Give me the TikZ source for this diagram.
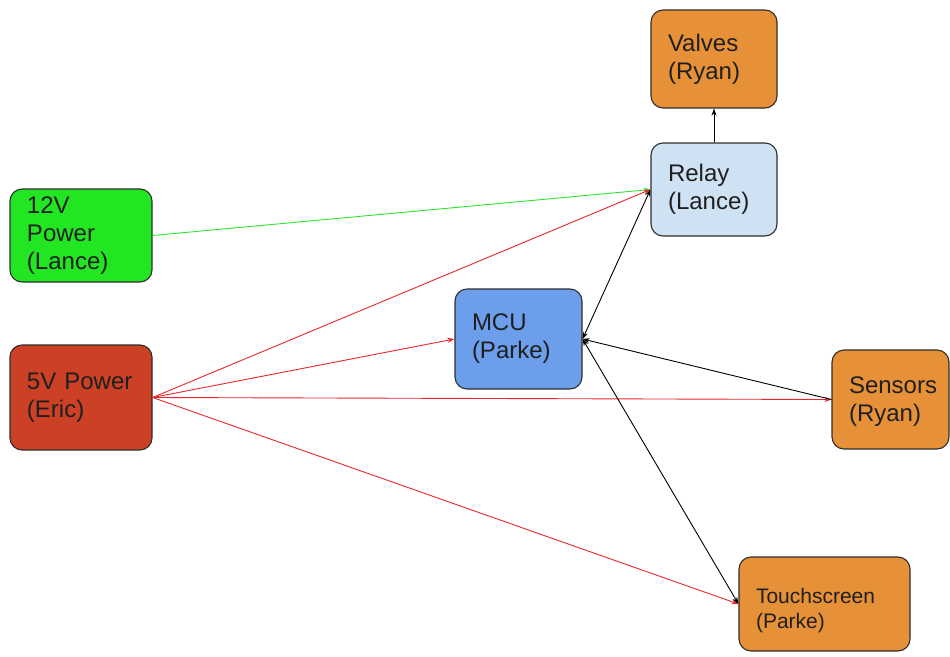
\documentclass[tikz,border=0pt]{standalone}
\usepackage{fontspec}
\setmainfont{Liberation Sans}
\usetikzlibrary{arrows.meta}
\definecolor{boxorange}{HTML}{E69138}
\definecolor{boxlightblue}{HTML}{CFE2F3}
\definecolor{boxgreen}{HTML}{22E622}
\definecolor{boxred}{HTML}{CC4125}
\definecolor{boxblue}{HTML}{6D9EEB}
\definecolor{boxedge}{HTML}{2E2E2E}
\definecolor{txt}{HTML}{1F1F1F}
\definecolor{wirered}{HTML}{E8262E}
\definecolor{wiregreen}{HTML}{2EE62E}
\begin{document}
\begin{tikzpicture}[x=1pt,y=-1pt,
  block/.style={draw=boxedge, line width=1.1pt, rounded corners=12pt,
    rectangle, inner xsep=17pt, inner ysep=0pt, align=left,
    text=txt, font=\fontsize{24}{28}\selectfont},
  wire/.style={line width=0.9pt, -{Stealth[length=7pt,width=5pt]}},
  twoway/.style={line width=0.9pt, {Stealth[length=7pt,width=5pt]}-{Stealth[length=7pt,width=5pt]}}]
\useasboundingbox (0,0) rectangle (950,656);

% component blocks
\node[block, fill=boxorange, minimum width=126pt, minimum height=98pt, text width=92pt]
  (valves) at (714,59) {Valves\\(Ryan)};
\node[block, fill=boxlightblue, minimum width=126pt, minimum height=93pt, text width=92pt]
  (relay) at (714,189.5) {Relay\\(Lance)};
\node[block, fill=boxgreen, minimum width=142pt, minimum height=93pt, text width=108pt]
  (p12) at (81,235.5) {12V\\Power\\(Lance)};
\node[block, fill=boxred, minimum width=142pt, minimum height=105pt, text width=108pt]
  (p5) at (81,397.5) {5V Power\\(Eric)};
\node[block, fill=boxblue, minimum width=127pt, minimum height=100pt, text width=93pt]
  (mcu) at (518.5,339) {MCU\\(Parke)};
\node[block, fill=boxorange, minimum width=117pt, minimum height=99pt, text width=83pt]
  (sensors) at (890.5,399.5) {\rule{0pt}{21pt}Sensors\\(Ryan)};
% the strut lowers the two lines a little inside the box
\node[block, fill=boxorange, minimum width=171pt, minimum height=94pt, text width=137pt,
  font=\fontsize{21}{25}\selectfont]
  (touch) at (824.5,604) {\rule{0pt}{29pt}Touchscreen\\(Parke)};

% 12 V supply
\draw[wire, wiregreen] (p12.east) -- (relay.west);

% 5 V supply
\draw[wire, wirered] (p5.east) -- (relay.west);
\draw[wire, wirered] (p5.east) -- (mcu.west);
\draw[wire, wirered] (p5.east) -- (sensors.west);
\draw[wire, wirered] (p5.east) -- (touch.west);

% signal lines
\draw[wire, black] (relay.north) -- (valves.south);
\draw[twoway, black] (mcu.east) -- (relay.west);
\draw[wire, black] (sensors.west) -- (mcu.east);
\draw[twoway, black] (mcu.east) -- (touch.west);
\end{tikzpicture}
\end{document}
